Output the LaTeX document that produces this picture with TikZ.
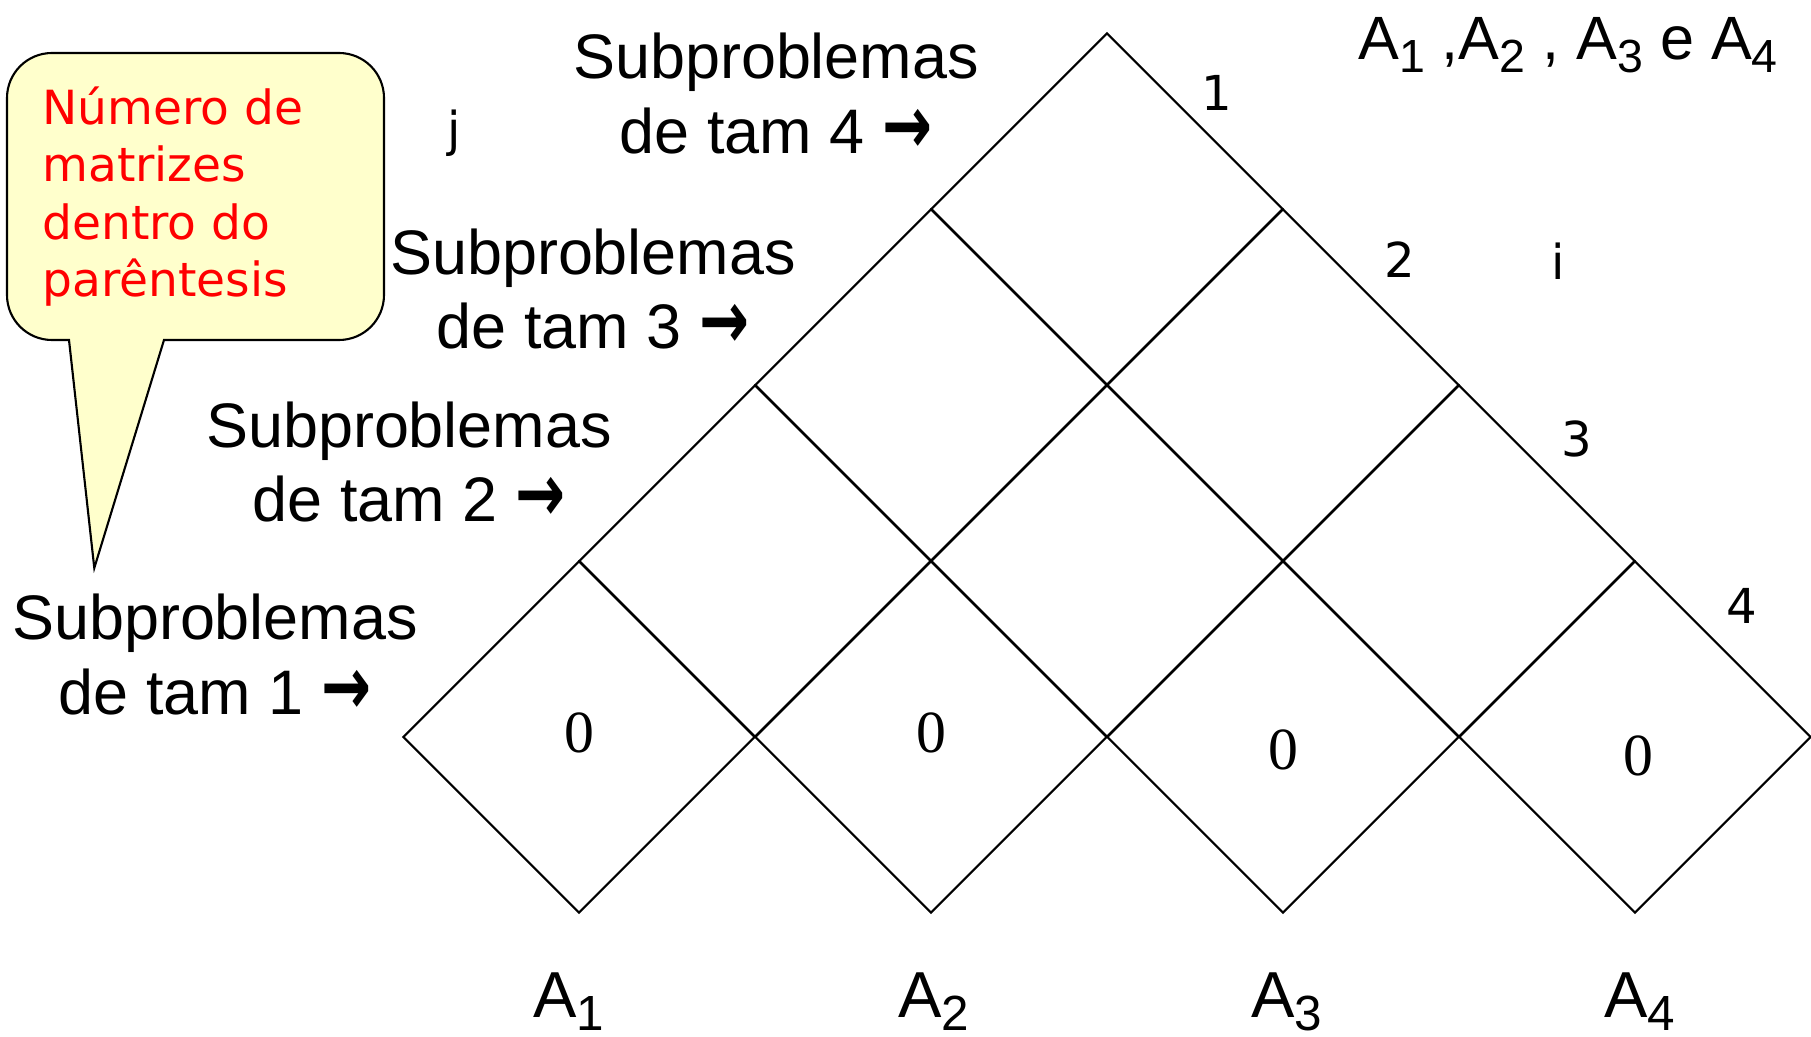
\documentclass[tikz,border=0pt]{standalone}
\usepackage{fontspec}
\setmainfont{Liberation Sans}
\newfontfamily\verdfont{DejaVu Sans}
\newfontfamily\timesfont{Liberation Serif}
\usetikzlibrary{shapes.geometric}
\definecolor{notefill}{RGB}{255,255,204}
\definecolor{notered}{RGB}{255,0,0}
\newcommand{\Am}[1]{A\raisebox{-0.2em}{\scalebox{0.76}{#1}}}
\newcommand{\tamarrow}{\scalebox{0.95}[1.3]{\verdfont\bfseries →}}
\tikzset{
  cell/.style={diamond, draw, line width=0.6pt, minimum width=3.52cm, minimum height=3.52cm, inner sep=0pt},
  tamlab/.style={font=\fontsize{17.9}{21.3}\selectfont, align=center, anchor=base, inner sep=0pt},
  matlab/.style={font=\fontsize{18.5}{22}\selectfont, anchor=base, inner sep=0pt},
  idxlab/.style={font=\verdfont\fontsize{13.7}{16}\selectfont, inner sep=0pt},
  zero/.style={font=\timesfont\fontsize{17}{20}\selectfont, inner sep=0pt},
  notebox/.style={draw, fill=notefill, line width=0.6pt},
  notetext/.style={font=\verdfont\fontsize{13.4}{16.4}\selectfont, text=notered, align=left, inner sep=0pt},
}

\begin{document}
\begin{tikzpicture}
  \useasboundingbox (0,0) rectangle (18.11,10.36);
  % callout
  \draw[notebox] (0.69,6.96) -- (0.943,4.68) -- (1.64,6.96) -- (3.39,6.96)
    arc[start angle=-90, end angle=0, radius=0.45] -- (3.84,9.38)
    arc[start angle=0, end angle=90, radius=0.45] -- (0.52,9.83)
    arc[start angle=90, end angle=180, radius=0.45] -- (0.07,7.41)
    arc[start angle=180, end angle=270, radius=0.45] -- cycle;
  \node[notetext, anchor=base west] (nota) at (0.416,7.39) {Número de\\matrizes\\dentro do\\parêntesis};
  % diamonds
  \foreach \r in {0,...,3}{
    \pgfmathtruncatemacro{\last}{3-\r}
    \foreach \c in {0,...,\last}
      \node[cell] (d\r\c) at ({5.79+3.52*\c+1.76*\r},{2.99+1.76*\r}) {};
  }
  \node[zero] (z1) at ([yshift=0.4mm]d00.center) {0};
  \node[zero] (z2) at ([yshift=0.4mm]d01.center) {0};
  \node[zero] (z3) at ([yshift=-1.3mm]d02.center) {0};
  \node[zero] (z4) at ([xshift=0.3mm, yshift=-1.9mm]d03.center) {0};
  \foreach \c/\dx in {0/-1.0,1/0.3,2/0.4,3/0.5}{
    \pgfmathtruncatemacro{\k}{\c+1}
    \node[matlab] (a\k) at ([xshift=\dx mm, yshift=-10.3mm]d0\c.south) {\Am{\k}};
  }
  % row labels
  \node[tamlab] (tam4) at (7.76,8.825) {Subproblemas\\de tam 4 \tamarrow};
  \node[tamlab] (tam3) at (5.93,6.87) {Subproblemas\\de tam 3 \tamarrow};
  \node[tamlab] (tam2) at (4.09,5.14) {Subproblemas\\de tam 2 \tamarrow};
  \node[tamlab] (tam1) at (2.15,3.22) {Subproblemas\\de tam 1 \tamarrow};
  \node[matlab, font=\fontsize{17.4}{21}\selectfont] (seq) at (15.68,9.76) {\Am{1} ,\Am{2} , \Am{3} e \Am{4}};
  % indices
  \node[idxlab] (n1) at (12.17,9.43) {1};
  \node[idxlab] (n2) at (14.00,7.76) {2};
  \node[idxlab] (n3) at (15.77,5.97) {3};
  \node[idxlab] (n4) at (17.42,4.30) {4};
  \node[idxlab] (ii) at (15.58,7.75) {i};
  \node[idxlab] (jj) at (4.54,9.03) {j};
\end{tikzpicture}
\end{document}
